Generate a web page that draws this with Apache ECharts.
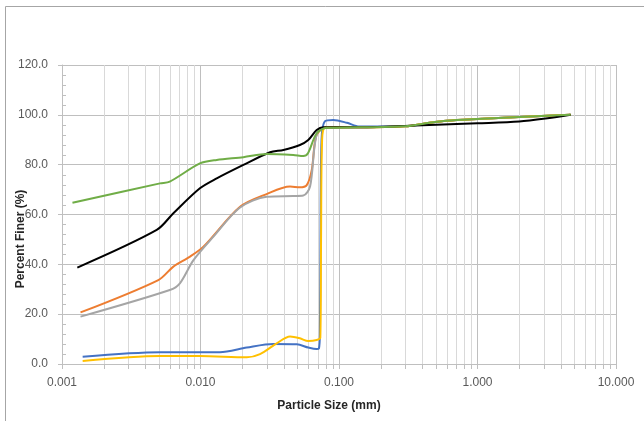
<!DOCTYPE html>
<html>
<head>
<meta charset="utf-8">
<script src="https://cdn.jsdelivr.net/npm/echarts@6/dist/echarts.min.js"></script>
<style>
  html, body { margin: 0; padding: 0; background: #fff; }
  #chart { width: 644px; height: 421px; }
</style>
</head>
<body>
<div id="chart"></div>
<script>
// particle size (mm) / percent finer (%)
var blueX = [0.00141, 0.0051, 0.0138, 0.0216, 0.0336, 0.0496, 0.06, 0.069, 0.0716, 0.0728, 0.0735, 0.0748, 0.079, 0.091, 0.114, 0.14, 0.3, 0.45, 0.6, 1.0, 2.0, 4.7];
var blueY = [2.9, 4.7, 4.7, 6.6, 8.0, 7.9, 6.6, 6.0, 6.2, 12, 50, 90, 97.4, 97.9, 96.8, 95.3, 95.4, 96.8, 97.6, 98.3, 99.1, 100];

var orangeX = [0.00136, 0.00496, 0.00637, 0.0084, 0.0105, 0.0193, 0.030, 0.0443, 0.0522, 0.0585, 0.0636, 0.0682, 0.077, 0.1, 0.14, 0.3, 0.45, 0.6, 1.0, 2.0, 4.7];
var orangeY = [20.7, 33.7, 39.1, 43.1, 47.1, 63.1, 68.2, 71.2, 70.9, 71.8, 77.9, 91.2, 94.6, 95.0, 95.0, 95.4, 96.8, 97.6, 98.3, 99.1, 100];

var grayX = [0.00136, 0.0060, 0.0071, 0.0089, 0.0124, 0.0193, 0.030, 0.0468, 0.0552, 0.0618, 0.0671, 0.0725, 0.1, 0.14, 0.3, 0.45, 0.6, 1.0, 2.0, 4.7];
var grayY = [19.0, 29.7, 32.4, 41.7, 51.1, 62.8, 67.1, 67.4, 67.6, 71.2, 88.6, 94.2, 95.0, 95.0, 95.4, 96.8, 97.6, 98.3, 99.1, 100];

var yellowX = [0.00141, 0.0051, 0.0099, 0.0216, 0.0269, 0.0355, 0.0443, 0.0522, 0.06, 0.069, 0.0733, 0.0742, 0.0755, 0.08, 0.14, 0.3, 0.45, 0.6, 1.0, 2.0, 4.7];
var yellowY = [1.2, 3.2, 3.2, 2.7, 4.0, 8.3, 11.0, 10.3, 9.2, 9.6, 10.5, 50, 90, 95.0, 95.0, 95.4, 96.8, 97.6, 98.3, 99.1, 100];

var blackX = [0.00129, 0.00483, 0.00637, 0.0099, 0.0131, 0.0204, 0.0318, 0.0397, 0.0522, 0.06, 0.069, 0.077, 0.14, 0.4, 1.0, 2.0, 3.2, 4.7];
var blackY = [38.7, 53.8, 60.5, 70.5, 74.5, 79.9, 85.0, 85.9, 87.9, 89.9, 93.9, 95.0, 95.0, 95.8, 96.6, 97.3, 98.6, 100];

var greenX = [0.00119, 0.0051, 0.0060, 0.0099, 0.0131, 0.0204, 0.030, 0.0468, 0.0552, 0.0597, 0.069, 0.0815, 0.14, 0.3, 0.45, 0.6, 1.0, 2.0, 4.7];
var greenY = [64.7, 72.5, 73.2, 80.5, 81.9, 83.0, 84.3, 83.9, 83.5, 84.6, 92.6, 94.8, 95.0, 95.4, 96.8, 97.6, 98.3, 99.1, 100];

var yTicks = [0, 20, 40, 60, 80, 100, 120];
var xDecades = [0.001, 0.01, 0.1, 1, 10];

function pairs(xs, ys) {
    return xs.map(function (x, i) { return [x, ys[i]]; });
}

// minor log grid lines 2..9 in every decade
var minorX = [];
for (var d = 0; d < xDecades.length - 1; d++) {
    for (var k = 2; k <= 9; k++) {
        minorX.push([k * xDecades[d], 0]);
    }
}
// minor y ticks (drawn inside the plot like excel does)
var minorY = [];
for (var t = 0; t < yTicks.length - 1; t++) {
    for (var m = 1; m < 5; m++) {
        minorY.push([xDecades[0], yTicks[t] + m * 4]);
    }
}

var myChart = echarts.init(document.getElementById('chart'));

function line(name, color, xs, ys) {
    return {
        name: name,
        type: 'line',
        data: pairs(xs, ys),
        smooth: 0.3,
        showSymbol: false,
        lineStyle: { color: color, width: 2 },
        itemStyle: { color: color },
        z: 3
    };
}

var labelFont = '"Liberation Sans", Arial, sans-serif';

var option = {
    animation: false,
    grid: { left: 62, right: 28, top: 65, bottom: 57 },
    graphic: [
        {
            type: 'rect',
            shape: { x: 5.5, y: 6.5, width: 700, height: 500 },
            style: { fill: 'none', stroke: '#a6a6a6', lineWidth: 1 },
            silent: true
        },
        {
            type: 'text',
            x: 329, y: 406,
            style: {
                text: 'Particle Size (mm)', fill: '#262626',
                font: 'bold 12px ' + labelFont,
                textAlign: 'center', textVerticalAlign: 'middle'
            }
        },
        {
            type: 'text',
            x: 21, y: 239,
            rotation: Math.PI / 2,
            style: {
                text: 'Percent Finer (%)', fill: '#262626',
                font: 'bold 12px ' + labelFont,
                textAlign: 'center', textVerticalAlign: 'middle'
            }
        }
    ],
    xAxis: {
        type: 'log',
        logBase: 10,
        min: xDecades[0],
        max: xDecades[xDecades.length - 1],
        axisLine: { show: true, lineStyle: { color: '#bfbfbf' } },
        axisTick: { show: true, length: 5, lineStyle: { color: '#bfbfbf' } },
        axisLabel: {
            margin: 13,
            color: '#595959',
            fontSize: 12,
            fontFamily: labelFont,
            formatter: function (v) { return v.toFixed(3); }
        },
        splitLine: { show: true, lineStyle: { color: '#bfbfbf' } }
    },
    yAxis: {
        type: 'value',
        min: yTicks[0],
        max: yTicks[yTicks.length - 1],
        interval: 20,
        axisLine: { show: true, lineStyle: { color: '#bfbfbf' } },
        axisTick: { show: true, length: 4, lineStyle: { color: '#bfbfbf' } },
        axisLabel: {
            margin: 14,
            color: '#595959',
            fontSize: 12,
            fontFamily: labelFont,
            formatter: function (v) { return v.toFixed(1); }
        },
        splitLine: { show: true, lineStyle: { color: '#bfbfbf' } }
    },
    series: [
        {
            name: 'minorX',
            type: 'custom',
            silent: true,
            clip: false,
            z: 1,
            data: minorX,
            renderItem: function (params, api) {
                var top = api.coord([api.value(0), yTicks[yTicks.length - 1]]);
                var bot = api.coord([api.value(0), yTicks[0]]);
                var x = Math.round(top[0]) + 0.5;
                return {
                    type: 'group',
                    children: [
                        { type: 'line', shape: { x1: x, y1: top[1], x2: x, y2: bot[1] }, style: { stroke: '#d9d9d9', lineWidth: 1 } },
                        { type: 'line', shape: { x1: x, y1: bot[1], x2: x, y2: bot[1] + 5 }, style: { stroke: '#bfbfbf', lineWidth: 1 } }
                    ]
                };
            }
        },
        {
            name: 'minorY',
            type: 'custom',
            silent: true,
            clip: false,
            z: 2,
            data: minorY,
            renderItem: function (params, api) {
                var p = api.coord([api.value(0), api.value(1)]);
                var y = Math.round(p[1]) + 0.5;
                return { type: 'line', shape: { x1: p[0], y1: y, x2: p[0] + 4, y2: y }, style: { stroke: '#bfbfbf', lineWidth: 1 } };
            }
        },
        line('Sample 1', '#4472C4', blueX, blueY),
        line('Sample 2', '#ED7D31', orangeX, orangeY),
        line('Sample 3', '#A5A5A5', grayX, grayY),
        line('Sample 4', '#FFC000', yellowX, yellowY),
        line('Sample 5', '#000000', blackX, blackY),
        line('Sample 6', '#70AD47', greenX, greenY)
    ]
};

// 绘制图表
myChart.setOption(option);
</script>
</body>
</html>
